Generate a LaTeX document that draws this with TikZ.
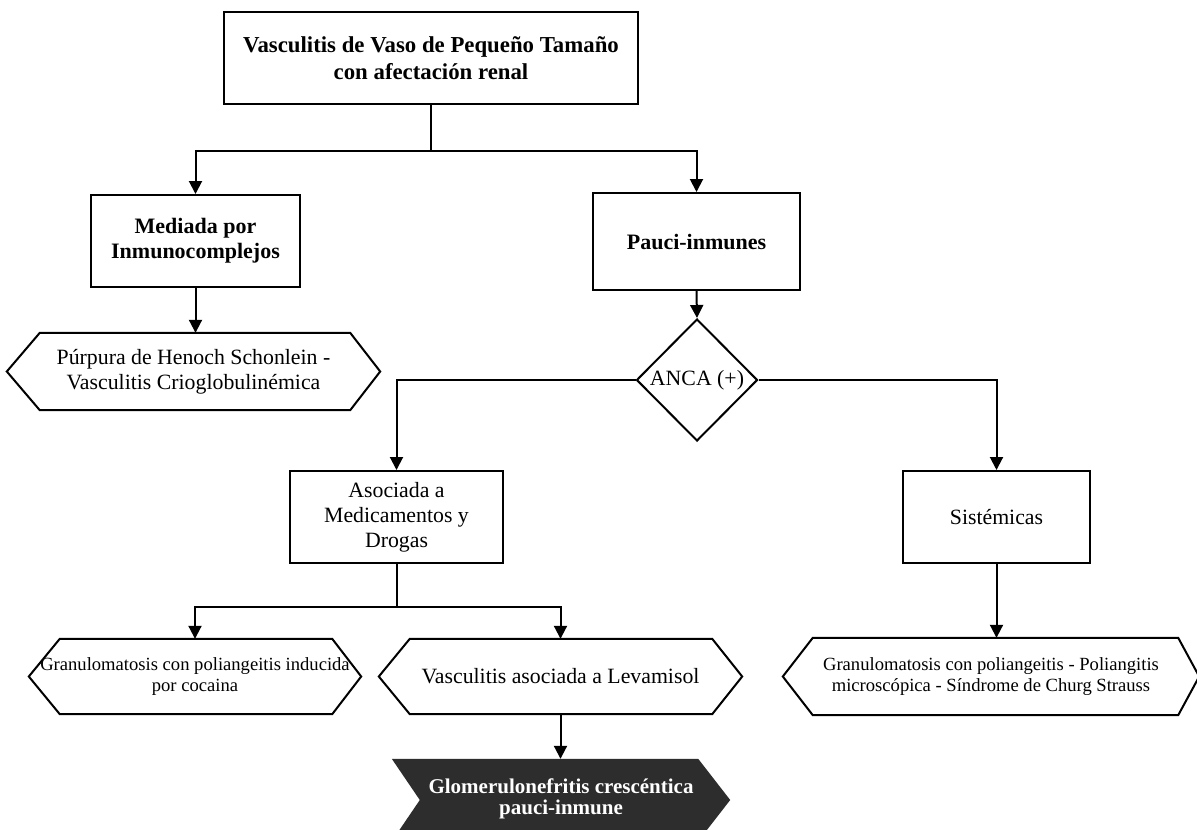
\documentclass[tikz,border=0pt]{standalone}
\usepackage{fontspec}
\setmainfont{Liberation Serif}
\usetikzlibrary{arrows.meta,shapes.geometric,backgrounds}
\definecolor{darkfill}{RGB}{45,45,45}
\newcommand\hexdraw[3]{\draw[hexline] (#1.west) -- ([xshift=#2]#1.north west) -- ([xshift=-#3]#1.north east) -- (#1.east) -- ([xshift=-#3]#1.south east) -- ([xshift=#2]#1.south west) -- cycle;}
\begin{document}
\begin{tikzpicture}[x=1pt,y=-1pt,
  box/.style={draw, line width=2pt, rectangle, align=center, inner sep=0pt},
  hexbox/.style={rectangle, align=center, inner sep=0pt},
  hexline/.style={draw, line width=2pt, line join=miter},
  conn/.style={line width=2pt},
  arr/.style={line width=2pt, -{Triangle[width=13pt,length=13pt]}},
  regtxt/.style={font=\fontsize{21.8}{25}\selectfont},
  smalltxt/.style={font=\fontsize{18.6}{21}\selectfont},
  boldtxt/.style={font=\fontsize{22}{25}\selectfont\bfseries},
]
\useasboundingbox (0,0) rectangle (1197,830);

\node[box, minimum width=414pt, minimum height=92pt, font=\fontsize{22.8}{27}\selectfont\bfseries] (top) at (431,58) {Vasculitis de Vaso de Pequeño Tamaño\\con afectación renal};
\node[box, boldtxt, minimum width=209pt, minimum height=92pt] (med) at (195.5,241) {Mediada por\\Inmunocomplejos};
\node[box, boldtxt, minimum width=207pt, minimum height=97pt] (pauci) at (696.5,241.5) {Pauci-inmunes};

\node[hexbox, regtxt, minimum width=373pt, minimum height=77pt] (h1) at (193.5,371.5) {Púrpura de Henoch Schonlein -\\Vasculitis Crioglobulinémica};
\hexdraw{h1}{33pt}{30pt}

\node[draw, line width=2pt, diamond, regtxt, inner sep=0pt, minimum width=121pt, minimum height=122pt] (anca) at (697,380) {ANCA (+)};

\node[box, regtxt, minimum width=213pt, minimum height=92pt] (asoc) at (396.5,517) {Asociada a\\Medicamentos y\\Drogas};
\node[box, regtxt, minimum width=187pt, minimum height=92pt] (sist) at (996.5,517) {Sistémicas};

\node[hexbox, smalltxt, minimum width=332pt, minimum height=75pt] (h2) at (195,676.5) {Granulomatosis con poliangeitis inducida\\por cocaina};
\hexdraw{h2}{31pt}{29pt}
\node[hexbox, regtxt, minimum width=363pt, minimum height=75pt] (h3) at (560.5,676.5) {Vasculitis asociada a Levamisol};
\hexdraw{h3}{31pt}{30pt}
\node[hexbox, smalltxt, minimum width=416pt, minimum height=77pt] (h4) at (991,676.5) {Granulomatosis con poliangeitis - Poliangitis\\microscópica - Síndrome de Churg Strauss};
\hexdraw{h4}{30pt}{21pt}

\node[hexbox, text=white, font=\fontsize{21}{21}\selectfont\bfseries, minimum width=338pt, minimum height=82pt] (gl) at (561,800) {\raisebox{3pt}{\begin{tabular}{@{}c@{}}Glomerulonefritis crescéntica\\pauci-inmune\end{tabular}}};
\begin{scope}[on background layer]
\fill[white] (0,0) rectangle (1197,830);
\fill[darkfill] (gl.north west) -- ([xshift=-32pt]gl.north east) -- (gl.east) -- ([xshift=-32pt]gl.south east) -- (gl.south west) -- ([xshift=28pt]gl.west) -- cycle;
\end{scope}

\coordinate (j1) at (431,151);
\draw[conn] (top.south) -- (j1);
\draw[arr] (j1) -| (med.north);
\draw[arr] (j1) -| (pauci.north);
\draw[arr] (med.south) -- (med.south |- h1.north);
\draw[arr] (pauci.south) -- (anca.north);
\draw[arr] (anca.west) -| (asoc.north);
\draw[arr] (anca.east) -| (sist.north);
\coordinate (j2) at (396.5,607);
\draw[conn] (asoc.south) -- (j2);
\draw[arr] (j2) -| (h2.north);
\draw[arr] (j2) -| (h3.north);
\draw[arr] (sist.south) -- (sist.south |- h4.north);
\draw[arr] (h3.south) -- (h3.south |- gl.north);
\end{tikzpicture}
\end{document}
